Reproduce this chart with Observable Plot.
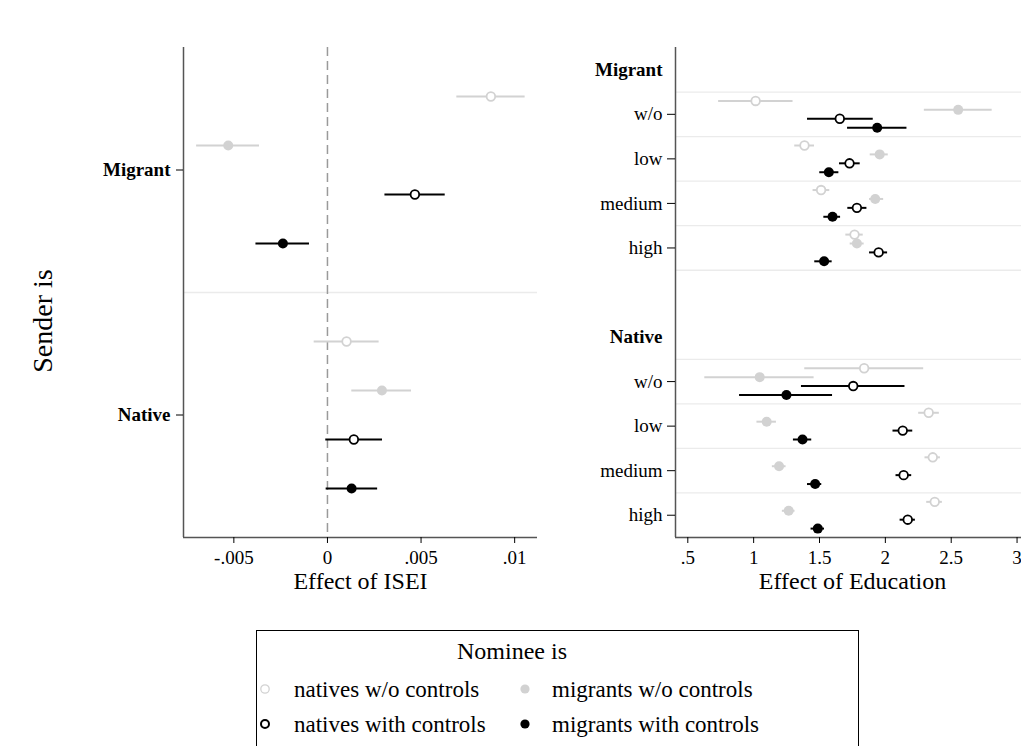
<!DOCTYPE html>
<html>
<head>
<meta charset="utf-8">
<script src="https://cdn.jsdelivr.net/npm/d3@7"></script>
<script src="https://cdn.jsdelivr.net/npm/@observablehq/plot@0.6"></script>
<style>
  html, body { margin: 0; padding: 0; background: #fff; overflow: hidden; }
  body { width: 1021px; height: 746px; position: relative; font-family: "Liberation Serif", "Times New Roman", serif; color: #000; }
  .panel { position: absolute; top: 0; }
  .panel svg { max-width: none !important; }
  #left { left: 0; width: 545px; }
  #right { left: 545px; width: 484px; }
  .ylabel { position: absolute; left: 43px; top: 321px; transform: translate(-50%, -50%) rotate(-90deg); font-size: 28px; line-height: 28px; white-space: nowrap; }
  .legend-box { position: absolute; left: 256px; top: 630px; width: 603px; height: 140px; border: 1.5px solid #000; box-sizing: border-box; }
  .legend-title { position: absolute; left: 512px; top: 639px; transform: translateX(-50%); font-size: 24px; line-height: 24px; white-space: nowrap; }
  .legend-text { position: absolute; font-size: 23px; line-height: 23px; white-space: nowrap; }
  .legend-sym { position: absolute; width: 14px; height: 14px; transform: translate(-50%, -50%); overflow: visible; }
</style>
</head>
<body>
<div id="left" class="panel"></div>
<div id="right" class="panel"></div>
<div class="ylabel">Sender is</div>
<div id="legend"></div>
<script>
// Sender groups, nominee series and education levels
const senders = ["Migrant", "Native"];
const nominees = ["natives w/o controls", "migrants w/o controls", "natives with controls", "migrants with controls"];
const levels = ["w/o", "low", "medium", "high"];

// Effect of ISEI: [estimate, lower, upper] per nominee series
const iseiMigrant = [
  [0.00873, 0.00691, 0.01056],
  [-0.00530, -0.00699, -0.00363],
  [0.00467, 0.00307, 0.00629],
  [-0.00238, -0.00382, -0.00096]
];
const iseiNative = [
  [0.00102, -0.00071, 0.00276],
  [0.00291, 0.00130, 0.00449],
  [0.00141, -0.00009, 0.00294],
  [0.00129, -0.00007, 0.00268]
];

// Effect of Education: per level, [estimate, lower, upper] per nominee series
const eduMigrant = [
  [[1.015, 0.734, 1.299], [2.553, 2.296, 2.811], [1.654, 1.409, 1.908], [1.938, 1.713, 2.164]],
  [[1.386, 1.312, 1.462], [1.957, 1.885, 2.022], [1.728, 1.652, 1.809], [1.571, 1.502, 1.647]],
  [[1.512, 1.451, 1.578], [1.923, 1.880, 1.987], [1.784, 1.715, 1.860], [1.599, 1.533, 1.660]],
  [[1.766, 1.700, 1.832], [1.784, 1.733, 1.839], [1.949, 1.880, 2.017], [1.535, 1.464, 1.596]]
];
const eduNative = [
  [[1.839, 1.388, 2.291], [1.046, 0.629, 1.459], [1.756, 1.363, 2.149], [1.249, 0.893, 1.599]],
  [[2.329, 2.253, 2.410], [1.099, 1.025, 1.173], [2.132, 2.058, 2.208], [1.371, 1.302, 1.441]],
  [[2.360, 2.301, 2.418], [1.193, 1.142, 1.246], [2.139, 2.081, 2.200], [1.467, 1.409, 1.517]],
  [[2.375, 2.314, 2.433], [1.266, 1.218, 1.314], [2.170, 2.112, 2.228], [1.487, 1.436, 1.538]]
];

// Axis ticks and extents
const iseiTicks = [-0.005, 0, 0.005, 0.01];
const eduTicks = [0.5, 1, 1.5, 2, 2.5, 3];
const iseiDomain = [-0.00769, 0.01122];
const eduDomain = [0.4066, 3.0945];

// Series styling: light gray for models without controls, black with controls
const LIGHT = "#d2d2d2";
const seriesColor = [LIGHT, LIGHT, "#000", "#000"];
const seriesHollow = [true, false, true, false];
const AXIS = "#555";
const GRID = "#ebebeb";
const FONT = "Liberation Serif, Times New Roman, serif";

const fmt = d => d === 0 ? "0" : String(d).replace(/^(-?)0\./, "$1.");

// Build one row per estimate; pos places each series within its sender/level band
const iseiRows = [];
[iseiMigrant, iseiNative].forEach((grp, g) =>
  grp.forEach(([est, lo, hi], s) => iseiRows.push({sender: senders[g], nominee: nominees[s], s, pos: g * 5 + s + 1, est, lo, hi})));

const eduRows = [];
const eduLevelTicks = [];
const eduGrid = [];
[eduMigrant, eduNative].forEach((grp, g) => {
  grp.forEach((lvl, i) => {
    const row = g * 6 + 1 + i;
    eduLevelTicks.push({pos: row + 0.5, label: levels[i]});
    eduGrid.push(row);
    lvl.forEach(([est, lo, hi], s) => eduRows.push({sender: senders[g], level: levels[i], nominee: nominees[s], s, pos: row + 0.2 * (s + 1), est, lo, hi}));
  });
  eduGrid.push(g * 6 + 5);
});
const eduHeaderTicks = senders.map((name, g) => ({pos: g * 6 + 0.5, label: name}));

// Interval lines and markers for each nominee series
function seriesMarks(rows) {
  const marks = [];
  for (let s = 0; s < 4; s++) {
    const sub = rows.filter(d => d.s === s);
    marks.push(Plot.ruleY(sub, {y: "pos", x1: "lo", x2: "hi", stroke: seriesColor[s], strokeWidth: 2}));
  }
  for (let s = 0; s < 4; s++) {
    const sub = rows.filter(d => d.s === s);
    marks.push(seriesHollow[s]
      ? Plot.dot(sub, {x: "est", y: "pos", r: 4.3, stroke: seriesColor[s], strokeWidth: 1.8, fill: "#fff"})
      : Plot.dot(sub, {x: "est", y: "pos", r: 5, fill: seriesColor[s], stroke: "none"}));
  }
  return marks;
}

const common = {
  height: 600,
  marginTop: 47,
  marginBottom: 63,
  style: {fontFamily: FONT, fontSize: "19px", background: "transparent", overflow: "visible"}
};

const left = Plot.plot({
  ...common,
  width: 545,
  marginLeft: 183,
  marginRight: 8,
  x: {domain: iseiDomain},
  y: {domain: [0, 10], reverse: true},
  marks: [
    Plot.ruleY([5], {stroke: GRID, strokeWidth: 1.3}),
    Plot.ruleX([0], {stroke: "#9a9a9a", strokeWidth: 1.5, strokeDasharray: "9,5"}),
    Plot.ruleX([iseiDomain[0]], {stroke: AXIS, strokeWidth: 1.5}),
    Plot.ruleY([10], {stroke: AXIS, strokeWidth: 1.5}),
    Plot.axisX({ticks: iseiTicks, tickFormat: fmt, tickSize: 6, tickPadding: 7, fontSize: 19, label: null}),
    Plot.axisY({ticks: [2.5, 7.5], tickFormat: d => senders[Math.floor(d / 5)], tickSize: 7, tickPadding: 6, fontSize: 19, fontWeight: "bold", label: null}),
    ...seriesMarks(iseiRows),
    Plot.text(["Effect of ISEI"], {frameAnchor: "bottom", lineAnchor: "bottom", dy: 51, fontSize: 24})
  ]
});

const eduLabel = new Map(eduLevelTicks.map(d => [d.pos, d.label]));
const headLabel = new Map(eduHeaderTicks.map(d => [d.pos, d.label]));

const right = Plot.plot({
  ...common,
  width: 484,
  marginLeft: 130,
  marginRight: 0,
  x: {domain: eduDomain},
  y: {domain: [0, 11], reverse: true},
  marks: [
    Plot.ruleY(eduGrid, {stroke: GRID, strokeWidth: 1.3}),
    Plot.ruleX([eduDomain[0]], {stroke: AXIS, strokeWidth: 1.5}),
    Plot.ruleY([11], {stroke: AXIS, strokeWidth: 1.5}),
    Plot.axisX({ticks: eduTicks, tickFormat: fmt, tickSize: 6, tickPadding: 7, fontSize: 19, label: null}),
    Plot.axisY({ticks: eduLevelTicks.map(d => d.pos), tickFormat: d => eduLabel.get(d), tickSize: 8, tickPadding: 5, fontSize: 19, label: null}),
    Plot.axisY({ticks: eduHeaderTicks.map(d => d.pos), tickFormat: d => headLabel.get(d), tickSize: 0, tickPadding: 13, fontSize: 19, fontWeight: "bold", label: null}),
    ...seriesMarks(eduRows),
    Plot.text(["Effect of Education"], {frameAnchor: "bottom", lineAnchor: "bottom", dy: 51, fontSize: 24})
  ]
});

document.getElementById("left").appendChild(left);
document.getElementById("right").appendChild(right);

// Legend: "Nominee is" with the four marker styles in two columns
const legend = document.getElementById("legend");
legend.innerHTML = '<div class="legend-box"></div><div class="legend-title">Nominee is</div>';
const legendPos = [
  {x: 265, tx: 294, y: 689, top: 678},
  {x: 525, tx: 552, y: 689, top: 678},
  {x: 265, tx: 294, y: 724, top: 713},
  {x: 525, tx: 552, y: 724, top: 713}
];
[0, 1, 2, 3].forEach((s, k) => {
  const p = legendPos[k];
  const col = seriesColor[s];
  const sym = seriesHollow[s]
    ? `<circle cx="7" cy="7" r="${s === 0 ? 4.2 : 4}" fill="#fff" stroke="${col}" stroke-width="${s === 0 ? 1.3 : 2}"/>`
    : `<circle cx="7" cy="7" r="4.6" fill="${col}"/>`;
  legend.insertAdjacentHTML("beforeend",
    `<svg class="legend-sym" style="left:${p.x}px;top:${p.y}px" viewBox="0 0 14 14">${sym}</svg>` +
    `<div class="legend-text" style="left:${p.tx}px;top:${p.top}px">${nominees[s]}</div>`);
});
</script>
</body>
</html>
